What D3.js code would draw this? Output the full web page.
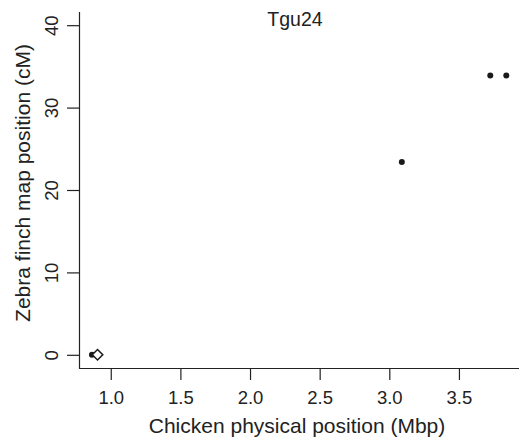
<!DOCTYPE html>
<html>
<head>
<meta charset="utf-8">
<script src="https://cdn.jsdelivr.net/npm/d3@7"></script>
<style>
  body { margin: 0; background: #fff; }
  text { font-family: "Liberation Sans", Arial, sans-serif; fill: #222; }
</style>
</head>
<body>
<script>
// marker positions
var chickenMbp = [0.865, 3.09, 3.725, 3.84];
var finchCM = [0, 23.4, 33.9, 33.9];
var diamondMbp = [0.905];
var diamondCM = [0];
var xTicks = [1.0, 1.5, 2.0, 2.5, 3.0, 3.5];
var yTicks = [0, 10, 20, 30, 40];

var width = 519, height = 440;

var svg = d3.select("body").append("svg")
    .attr("width", width)
    .attr("height", height);

var x = d3.scaleLinear().domain([0.772, 3.96]).range([79, 523]);
var y = d3.scaleLinear().domain([-1.6, 41.6]).range([368, 12]);

// x axis
var xAxis = svg.append("g")
    .attr("transform", "translate(0," + 368 + ")")
    .call(d3.axisBottom(x).tickValues(xTicks).tickFormat(d3.format(".1f"))
        .tickSize(12).tickSizeOuter(0));

// y axis
var yAxis = svg.append("g")
    .attr("transform", "translate(" + 79 + ",0)")
    .call(d3.axisLeft(y).tickValues(yTicks).tickSize(12).tickSizeOuter(0));

svg.selectAll(".domain").attr("stroke", "#222").attr("stroke-width", 1.2);
svg.selectAll(".tick line").attr("stroke", "#222").attr("stroke-width", 1.2);
svg.selectAll(".tick text").style("font-size", "18.5px").attr("fill", "#222");

xAxis.selectAll(".tick text").attr("y", 36).attr("dy", 0);

yAxis.selectAll(".tick text")
    .attr("x", 0).attr("dy", 0)
    .attr("text-anchor", "middle")
    .attr("transform", "translate(-21,0) rotate(-90)");

// clip the y domain to the plot region, like R's L box
yAxis.select(".domain").attr("d", "M0.5," + 12 + "V" + 368.5);
xAxis.select(".domain").attr("d", "M79," + 0.5 + "H" + 523);

// axis titles
svg.append("text")
    .attr("x", 297).attr("y", 433)
    .attr("text-anchor", "middle")
    .style("font-size", "21px")
    .text("Chicken physical position (Mbp)");

svg.append("text")
    .attr("transform", "translate(30,183) rotate(-90)")
    .attr("text-anchor", "middle")
    .style("font-size", "21px")
    .text("Zebra finch map position (cM)");

svg.append("text")
    .attr("x", 295).attr("y", 26)
    .attr("text-anchor", "middle")
    .style("font-size", "19.5px")
    .text("Tgu24");

// points
svg.selectAll("circle.pt")
    .data(chickenMbp)
    .enter().append("circle")
    .attr("class", "pt")
    .attr("cx", function(d) { return x(d); })
    .attr("cy", function(d, i) { return y(finchCM[i]); })
    .attr("r", 3)
    .attr("fill", "#1a1a1a");

svg.selectAll("path.dm")
    .data(diamondMbp)
    .enter().append("path")
    .attr("class", "dm")
    .attr("d", d3.symbol().type(d3.symbolDiamond2).size(70))
    .attr("transform", function(d, i) { return "translate(" + x(d) + "," + y(diamondCM[i]) + ")"; })
    .attr("fill", "#fff")
    .attr("stroke", "#1a1a1a")
    .attr("stroke-width", 1.5);
</script>
</body>
</html>
